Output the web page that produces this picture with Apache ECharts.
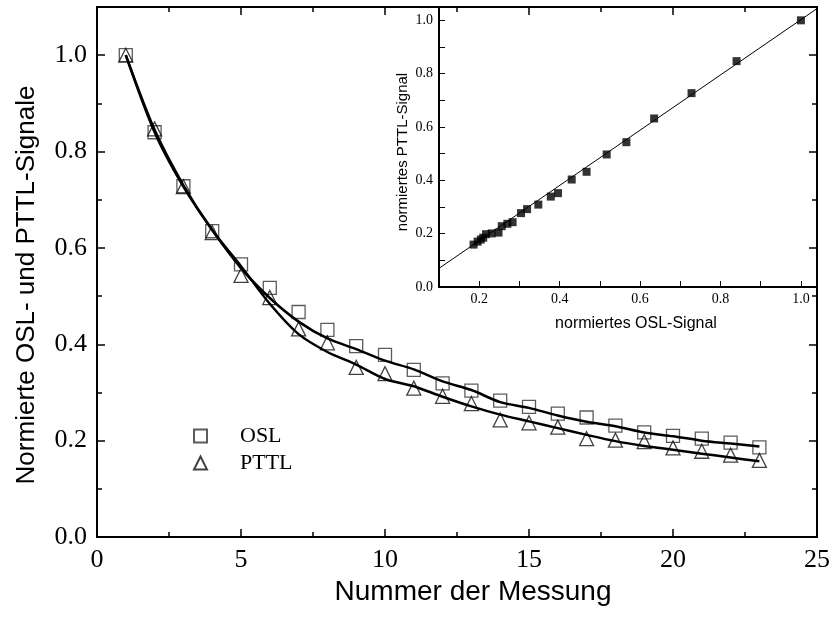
<!DOCTYPE html>
<html>
<head>
<meta charset="utf-8">
<script src="https://cdn.jsdelivr.net/npm/echarts@6/dist/echarts.min.js"></script>
<style>
  html, body { margin: 0; padding: 0; background: #fff; }
  #main { width: 836px; height: 623px; }
</style>
</head>
<body>
<div id="main"></div>
<script>
// Nummer der Messung
var messung = [1, 2, 3, 4, 5, 6, 7, 8, 9, 10, 11, 12, 13, 14, 15, 16, 17, 18, 19, 20, 21, 22, 23];
// normierte Messwerte
var oslWerte = [1.0, 0.84, 0.728, 0.635, 0.566, 0.517, 0.467, 0.43, 0.396, 0.378, 0.347, 0.319, 0.304, 0.283, 0.27, 0.256, 0.248, 0.231, 0.217, 0.21, 0.204, 0.196, 0.186];
var pttlWerte = [1.0, 0.847, 0.727, 0.632, 0.543, 0.497, 0.432, 0.403, 0.352, 0.339, 0.309, 0.292, 0.277, 0.243, 0.237, 0.228, 0.204, 0.201, 0.198, 0.185, 0.178, 0.17, 0.159];
// Anpassungskurven
var oslFit = [1.0, 0.84, 0.727, 0.637, 0.558, 0.496, 0.447, 0.412, 0.39, 0.366, 0.348, 0.323, 0.305, 0.28, 0.268, 0.252, 0.239, 0.23, 0.217, 0.209, 0.2, 0.194, 0.188];
var pttlFit = [1.0, 0.845, 0.73, 0.637, 0.562, 0.484, 0.421, 0.384, 0.358, 0.328, 0.313, 0.291, 0.271, 0.254, 0.24, 0.226, 0.212, 0.199, 0.189, 0.181, 0.173, 0.165, 0.157];
// Inset: Ausgleichsgerade
var geradeX = [0.1, 1.04];
var geradeY = [0.07, 1.044];

var dom = document.getElementById("main");
var myChart = echarts.init(dom);
var option = null;

var serif = "'Liberation Serif', 'Times New Roman', serif";
var sans = "'Liberation Sans', Arial, sans-serif";

function pairs(xs, ys) {
    var res = [];
    for (var i = 0; i < xs.length; i++) {
        res.push([xs[i], ys[i]]);
    }
    return res;
}

var frame = { show: true, onZero: false, lineStyle: { color: '#000', width: 2 } };
var noTick = { show: false };
var tick = { show: true, length: 8, lineStyle: { width: 1.5, color: '#000' } };
var minor = { show: true, splitNumber: 2, length: 5, lineStyle: { width: 1.5, color: '#000' } };
var tickS = { show: true, length: 6, lineStyle: { width: 1, color: '#000' } };
var minorS = { show: true, splitNumber: 2, length: 6, lineStyle: { width: 1, color: '#000' } };

var grids = [
    { left: 97, right: 19, top: 7, bottom: 86 },
    { left: 439, right: 19, top: 7, bottom: 336, show: true, backgroundColor: '#fff', borderWidth: 0 }
];

var xAxes = [
    {
        gridIndex: 0, type: 'value', min: 0, max: 25, interval: 5,
        name: 'Nummer der Messung', nameLocation: 'middle', nameGap: 36,
        nameTextStyle: { fontFamily: sans, fontSize: 28, color: '#000', padding: [0, 0, 0, 32] },
        axisLine: frame,
        axisTick: noTick,
        splitLine: { show: false },
        axisLabel: { fontFamily: serif, fontSize: 26, color: '#000', margin: 10 }
    },
    {
        gridIndex: 0, type: 'value', position: 'top', min: 0, max: 25, interval: 5,
        axisLine: frame,
        axisTick: noTick,
        splitLine: { show: false },
        axisLabel: { show: false }
    },
    {
        gridIndex: 1, type: 'value', min: 0.1, max: 1.04, interval: 0.1,
        name: 'normiertes OSL-Signal', nameLocation: 'middle', nameGap: 29,
        nameTextStyle: { fontFamily: sans, fontSize: 16, color: '#000', padding: [0, 0, 0, 16] },
        axisLine: { show: true, onZero: false, lineStyle: { color: '#000', width: 2 } },
        axisTick: noTick,
        splitLine: { show: false },
        axisLabel: {
            fontFamily: serif, fontSize: 14, color: '#000', margin: 5,
            formatter: function (v) {
                var k = Math.round(v * 10);
                if (Math.abs(v * 10 - k) < 1e-6 && k % 2 === 0) {
                    return v.toFixed(1);
                }
                return '';
            }
        }
    }
];

var yAxes = [
    {
        gridIndex: 0, type: 'value', min: 0, max: 1.1, interval: 0.2,
        name: 'Normierte OSL- und PTTL-Signale', nameLocation: 'middle', nameGap: 57,
        nameTextStyle: { fontFamily: sans, fontSize: 26, color: '#000', padding: [0, 26, 0, 0] },
        axisLine: frame,
        axisTick: noTick,
        splitLine: { show: false },
        axisLabel: {
            fontFamily: serif, fontSize: 26, color: '#000', margin: 10, showMaxLabel: false,
            formatter: function (v) { return v.toFixed(1); }
        }
    },
    {
        gridIndex: 0, type: 'value', position: 'right', min: 0, max: 1.1, interval: 0.2,
        axisLine: frame,
        axisTick: noTick,
        splitLine: { show: false },
        axisLabel: { show: false }
    },
    {
        gridIndex: 1, type: 'value', min: 0, max: 1.05, interval: 0.2,
        name: 'normiertes PTTL-Signal', nameLocation: 'middle', nameGap: 29,
        nameTextStyle: { fontFamily: sans, fontSize: 15, color: '#000', padding: [0, 10, 0, 0] },
        axisLine: { show: true, onZero: false, lineStyle: { color: '#000', width: 2 } },
        axisTick: noTick,
        splitLine: { show: false },
        axisLabel: {
            fontFamily: serif, fontSize: 14, color: '#000', margin: 6, showMaxLabel: false,
            formatter: function (v) { return v.toFixed(1); }
        }
    },
    {
        gridIndex: 1, type: 'value', position: 'right', min: 0, max: 1.05,
        axisLine: { show: true, onZero: false, lineStyle: { color: '#000', width: 2 } },
        axisTick: noTick,
        splitLine: { show: false },
        axisLabel: { show: false }
    }
];

// ticks that point into the plot: a thin extra grid sits just outside each edge,
// and its axis on that edge draws its (outward) ticks into the plot
function hidden(g) {
    return { gridIndex: g, type: 'value', show: false, min: 0, max: 1 };
}
function tickAxis(g, pos, min, max, interval, t, m) {
    return {
        gridIndex: g, type: 'value', position: pos, min: min, max: max, interval: interval,
        axisLine: { show: false, onZero: false }, axisTick: t, minorTick: m || { show: false },
        splitLine: { show: false }, axisLabel: { show: false }
    };
}
function tickX(rect, pos, min, max, interval, t, m) {
    grids.push(rect);
    var g = grids.length - 1;
    xAxes.push(tickAxis(g, pos, min, max, interval, t, m));
    yAxes.push(hidden(g));
}
function tickY(rect, pos, min, max, interval, t, m) {
    grids.push(rect);
    var g = grids.length - 1;
    yAxes.push(tickAxis(g, pos, min, max, interval, t, m));
    xAxes.push(hidden(g));
}

// main plot: 97..817 x 7..537
tickX({ left: 97, width: 720, top: 0, height: 7 }, 'bottom', 0, 25, 5, tick, minor);
tickX({ left: 97, width: 720, top: 537, height: 40 }, 'top', 0, 25, 5, tick, minor);
tickY({ left: 0, width: 97, top: 7, height: 530 }, 'right', 0, 1.1, 0.2, tick, minor);
tickY({ left: 817, width: 19, top: 7, height: 530 }, 'left', 0, 1.1, 0.2, tick, minor);
// inset: 439..817 x 7..287
tickX({ left: 439, width: 378, top: 287, height: 20 }, 'top', 0.1, 1.04, 0.1, tickS);
tickY({ left: 400, width: 39, top: 7, height: 280 }, 'right', 0, 1.05, 0.2, tickS, minorS);

option = {
    backgroundColor: '#fff',
    animation: false,
    legend: {
        orient: 'vertical',
        left: 188,
        top: 420,
        itemWidth: 13,
        itemHeight: 13,
        itemGap: 5,
        data: ['OSL', 'PTTL'],
        textStyle: {
            fontFamily: serif,
            fontSize: 22,
            color: '#000',
            padding: [0, 0, 0, 28]
        }
    },
    grid: grids,
    xAxis: xAxes,
    yAxis: yAxes,
    series: [
        {
            name: 'OSL Fit', type: 'line', xAxisIndex: 0, yAxisIndex: 0,
            data: pairs(messung, oslFit), smooth: 0.3, showSymbol: false,
            lineStyle: { color: '#000', width: 2.5 }
        },
        {
            name: 'PTTL Fit', type: 'line', xAxisIndex: 0, yAxisIndex: 0,
            data: pairs(messung, pttlFit), smooth: 0.3, showSymbol: false,
            lineStyle: { color: '#000', width: 2.5 }
        },
        {
            name: 'OSL', type: 'scatter', xAxisIndex: 0, yAxisIndex: 0,
            data: pairs(messung, oslWerte), symbol: 'rect', symbolSize: 13,
            itemStyle: { color: 'rgba(0,0,0,0)', borderColor: '#333', borderWidth: 1.3 }
        },
        {
            name: 'PTTL', type: 'scatter', xAxisIndex: 0, yAxisIndex: 0,
            data: pairs(messung, pttlWerte), symbol: 'triangle', symbolSize: 14,
            itemStyle: { color: 'rgba(0,0,0,0)', borderColor: '#111', borderWidth: 1.3 }
        },
        {
            name: 'Gerade', type: 'line', xAxisIndex: 2, yAxisIndex: 2,
            data: pairs(geradeX, geradeY), showSymbol: false,
            lineStyle: { color: '#000', width: 1 }
        },
        {
            name: 'OSL vs PTTL', type: 'scatter', xAxisIndex: 2, yAxisIndex: 2,
            data: pairs(oslWerte, pttlWerte), symbol: 'rect', symbolSize: 8,
            itemStyle: { color: '#000' }
        }
    ]
};

if (option && typeof option === "object") {
    myChart.setOption(option, true);
}
</script>
</body>
</html>
